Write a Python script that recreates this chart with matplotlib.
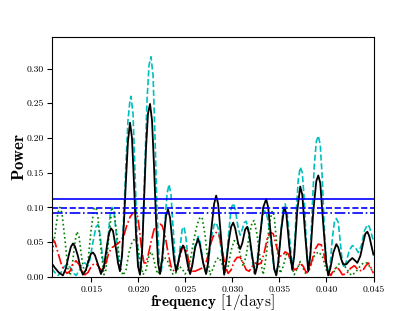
import matplotlib
matplotlib.use("Agg")
import matplotlib.pyplot as plt

plt.rcParams['font.family'] = ['cmr10']
plt.rcParams['mathtext.fontset'] = 'cm'
plt.rcParams['axes.formatter.use_mathtext'] = True

# curve 1: black solid
freq_k = [0.01080, 0.01112, 0.01155, 0.01197, 0.01229, 0.01261, 0.01282, 0.01304, 0.01325, 0.01357,
          0.01389, 0.01410, 0.01442, 0.01474, 0.01495, 0.01517, 0.01538, 0.01570, 0.01602, 0.01634,
          0.01666, 0.01687, 0.01708, 0.01730, 0.01762, 0.01783, 0.01804, 0.01826, 0.01847, 0.01868,
          0.01889, 0.01911, 0.01932, 0.01953, 0.01975, 0.01996, 0.02017, 0.02039, 0.02060, 0.02081,
          0.02102, 0.02124, 0.02145, 0.02166, 0.02188, 0.02209, 0.02230, 0.02252, 0.02273, 0.02294,
          0.02315, 0.02337, 0.02358, 0.02379, 0.02401, 0.02422, 0.02454, 0.02475, 0.02496, 0.02528,
          0.02550, 0.02571, 0.02603, 0.02635, 0.02656, 0.02688, 0.02720, 0.02741, 0.02773, 0.02805,
          0.02827, 0.02848, 0.02880, 0.02912, 0.02933, 0.02965, 0.02986, 0.03008, 0.03029, 0.03061,
          0.03082, 0.03104, 0.03135, 0.03157, 0.03178, 0.03210, 0.03242, 0.03263, 0.03295, 0.03327,
          0.03359, 0.03380, 0.03412, 0.03444, 0.03466, 0.03487, 0.03519, 0.03551, 0.03572, 0.03604,
          0.03636, 0.03657, 0.03689, 0.03721, 0.03743, 0.03774, 0.03806, 0.03828, 0.03860, 0.03892,
          0.03913, 0.03934, 0.03966, 0.03998, 0.04019, 0.04041, 0.04073, 0.04105, 0.04126, 0.04158,
          0.04179, 0.04211, 0.04243, 0.04275, 0.04307, 0.04328, 0.04360, 0.04392, 0.04413, 0.04435,
          0.04456, 0.04477, 0.04499]
power_k = [0.019, 0.013, 0.006, 0.002, 0.012, 0.032, 0.043, 0.048, 0.044, 0.030,
           0.010, 0.003, 0.010, 0.025, 0.033, 0.035, 0.031, 0.018, 0.004, 0.015,
           0.045, 0.062, 0.070, 0.066, 0.040, 0.020, 0.008, 0.030, 0.080, 0.140,
           0.195, 0.222, 0.200, 0.135, 0.060, 0.015, 0.003, 0.035, 0.110, 0.185,
           0.235, 0.249, 0.225, 0.160, 0.080, 0.020, 0.004, 0.025, 0.060, 0.088,
           0.097, 0.085, 0.055, 0.025, 0.008, 0.020, 0.040, 0.045, 0.038, 0.015,
           0.004, 0.015, 0.042, 0.055, 0.045, 0.020, 0.004, 0.020, 0.065, 0.105,
           0.117, 0.105, 0.055, 0.003, 0.020, 0.055, 0.072, 0.078, 0.070, 0.048,
           0.040, 0.048, 0.068, 0.072, 0.062, 0.030, 0.004, 0.015, 0.060, 0.100,
           0.112, 0.100, 0.055, 0.012, 0.002, 0.020, 0.068, 0.100, 0.092, 0.045,
           0.010, 0.030, 0.095, 0.130, 0.118, 0.060, 0.008, 0.030, 0.095, 0.138,
           0.146, 0.135, 0.075, 0.020, 0.002, 0.012, 0.035, 0.047, 0.042, 0.025,
           0.018, 0.018, 0.023, 0.027, 0.023, 0.020, 0.030, 0.050, 0.062, 0.065,
           0.058, 0.045, 0.032]

# curve 2: cyan dashed
freq_c = [0.01080, 0.01112, 0.01144, 0.01176, 0.01208, 0.01240, 0.01272, 0.01304, 0.01336, 0.01368,
          0.01400, 0.01431, 0.01463, 0.01485, 0.01517, 0.01549, 0.01570, 0.01591, 0.01613, 0.01634,
          0.01655, 0.01676, 0.01698, 0.01719, 0.01740, 0.01762, 0.01783, 0.01804, 0.01826, 0.01847,
          0.01868, 0.01889, 0.01911, 0.01921, 0.01943, 0.01964, 0.01985, 0.02007, 0.02028, 0.02049,
          0.02070, 0.02092, 0.02113, 0.02134, 0.02156, 0.02177, 0.02198, 0.02220, 0.02241, 0.02262,
          0.02283, 0.02305, 0.02326, 0.02347, 0.02369, 0.02390, 0.02411, 0.02433, 0.02465, 0.02486,
          0.02507, 0.02528, 0.02550, 0.02571, 0.02603, 0.02635, 0.02656, 0.02688, 0.02720, 0.02741,
          0.02773, 0.02805, 0.02827, 0.02848, 0.02880, 0.02912, 0.02933, 0.02965, 0.02986, 0.03008,
          0.03029, 0.03061, 0.03082, 0.03104, 0.03125, 0.03146, 0.03167, 0.03199, 0.03231, 0.03253,
          0.03285, 0.03317, 0.03338, 0.03359, 0.03380, 0.03412, 0.03444, 0.03466, 0.03487, 0.03519,
          0.03540, 0.03561, 0.03583, 0.03615, 0.03636, 0.03657, 0.03679, 0.03700, 0.03721, 0.03743,
          0.03764, 0.03785, 0.03806, 0.03828, 0.03849, 0.03870, 0.03892, 0.03913, 0.03934, 0.03956,
          0.03977, 0.03998, 0.04019, 0.04041, 0.04062, 0.04083, 0.04105, 0.04126, 0.04147, 0.04169,
          0.04190, 0.04211, 0.04243, 0.04275, 0.04307, 0.04339, 0.04371, 0.04403, 0.04435, 0.04456,
          0.04477, 0.04499]
power_c = [0.012, 0.006, 0.002, 0.006, 0.014, 0.018, 0.014, 0.006, 0.002, 0.008,
           0.018, 0.020, 0.016, 0.025, 0.050, 0.072, 0.075, 0.062, 0.035, 0.012,
           0.020, 0.055, 0.088, 0.100, 0.095, 0.065, 0.030, 0.010, 0.035, 0.095,
           0.165, 0.225, 0.255, 0.260, 0.235, 0.150, 0.060, 0.012, 0.010, 0.070,
           0.165, 0.255, 0.305, 0.317, 0.290, 0.200, 0.095, 0.025, 0.005, 0.030,
           0.080, 0.120, 0.133, 0.118, 0.070, 0.025, 0.008, 0.030, 0.068, 0.072,
           0.055, 0.025, 0.005, 0.015, 0.045, 0.058, 0.050, 0.022, 0.004, 0.018,
           0.055, 0.075, 0.078, 0.070, 0.040, 0.004, 0.020, 0.070, 0.098, 0.106,
           0.098, 0.070, 0.060, 0.068, 0.078, 0.080, 0.070, 0.035, 0.005, 0.012,
           0.050, 0.085, 0.095, 0.093, 0.080, 0.045, 0.010, 0.003, 0.020, 0.070,
           0.100, 0.105, 0.090, 0.045, 0.012, 0.035, 0.095, 0.140, 0.158, 0.150,
           0.110, 0.050, 0.010, 0.035, 0.100, 0.160, 0.195, 0.203, 0.190, 0.140,
           0.070, 0.020, 0.003, 0.020, 0.055, 0.078, 0.084, 0.078, 0.050, 0.020,
           0.013, 0.022, 0.038, 0.045, 0.042, 0.035, 0.045, 0.066, 0.075, 0.072,
           0.062, 0.052]

# curve 3: green dotted
freq_g = [0.01080, 0.01112, 0.01144, 0.01165, 0.01187, 0.01218, 0.01250, 0.01272, 0.01293, 0.01325,
          0.01346, 0.01368, 0.01400, 0.01431, 0.01463, 0.01495, 0.01527, 0.01549, 0.01570, 0.01602,
          0.01634, 0.01655, 0.01687, 0.01719, 0.01740, 0.01772, 0.01804, 0.01836, 0.01868, 0.01900,
          0.01932, 0.01964, 0.01985, 0.02017, 0.02049, 0.02081, 0.02113, 0.02134, 0.02156, 0.02188,
          0.02209, 0.02241, 0.02273, 0.02305, 0.02337, 0.02369, 0.02401, 0.02433, 0.02465, 0.02496,
          0.02528, 0.02560, 0.02592, 0.02624, 0.02656, 0.02678, 0.02709, 0.02741, 0.02763, 0.02795,
          0.02827, 0.02858, 0.02890, 0.02922, 0.02954, 0.02986, 0.03018, 0.03050, 0.03082, 0.03114,
          0.03146, 0.03178, 0.03210, 0.03231, 0.03263, 0.03295, 0.03327, 0.03359, 0.03391, 0.03423,
          0.03444, 0.03476, 0.03508, 0.03540, 0.03572, 0.03593, 0.03625, 0.03657, 0.03689, 0.03721,
          0.03753, 0.03785, 0.03828, 0.03870, 0.03913, 0.03956, 0.03998, 0.04041, 0.04083, 0.04126,
          0.04169, 0.04211, 0.04264, 0.04307, 0.04350, 0.04392, 0.04435, 0.04467, 0.04499]
power_g = [0.030, 0.060, 0.092, 0.100, 0.092, 0.055, 0.012, 0.002, 0.012, 0.050,
           0.065, 0.058, 0.025, 0.002, 0.020, 0.065, 0.098, 0.100, 0.085, 0.040,
           0.003, 0.010, 0.060, 0.098, 0.095, 0.060, 0.015, 0.002, 0.010, 0.035,
           0.050, 0.055, 0.050, 0.025, 0.003, 0.010, 0.030, 0.036, 0.030, 0.010,
           0.004, 0.018, 0.028, 0.025, 0.012, 0.003, 0.006, 0.015, 0.012, 0.004,
           0.010, 0.030, 0.055, 0.075, 0.086, 0.085, 0.060, 0.020, 0.003, 0.012,
           0.025, 0.028, 0.018, 0.005, 0.015, 0.038, 0.052, 0.050, 0.032, 0.015,
           0.030, 0.060, 0.079, 0.081, 0.060, 0.025, 0.003, 0.030, 0.075, 0.095,
           0.088, 0.040, 0.005, 0.015, 0.032, 0.035, 0.018, 0.003, 0.012, 0.022,
           0.012, 0.003, 0.015, 0.030, 0.036, 0.030, 0.010, 0.001, 0.008, 0.018,
           0.020, 0.012, 0.002, 0.006, 0.014, 0.020, 0.020, 0.013, 0.006]

# curve 4: red dash-dot
freq_r = [0.01080, 0.01112, 0.01144, 0.01176, 0.01208, 0.01240, 0.01272, 0.01304, 0.01336, 0.01368,
          0.01400, 0.01431, 0.01463, 0.01495, 0.01527, 0.01559, 0.01591, 0.01623, 0.01655, 0.01687,
          0.01719, 0.01751, 0.01783, 0.01815, 0.01847, 0.01879, 0.01911, 0.01943, 0.01975, 0.01996,
          0.02017, 0.02039, 0.02060, 0.02081, 0.02102, 0.02134, 0.02166, 0.02198, 0.02230, 0.02252,
          0.02283, 0.02315, 0.02347, 0.02379, 0.02411, 0.02443, 0.02475, 0.02507, 0.02539, 0.02571,
          0.02603, 0.02635, 0.02667, 0.02699, 0.02731, 0.02763, 0.02795, 0.02827, 0.02858, 0.02890,
          0.02922, 0.02954, 0.02986, 0.03018, 0.03050, 0.03082, 0.03114, 0.03146, 0.03178, 0.03210,
          0.03242, 0.03274, 0.03306, 0.03338, 0.03370, 0.03402, 0.03434, 0.03466, 0.03498, 0.03530,
          0.03561, 0.03593, 0.03625, 0.03657, 0.03689, 0.03721, 0.03753, 0.03785, 0.03817, 0.03849,
          0.03881, 0.03913, 0.03945, 0.03977, 0.04009, 0.04041, 0.04073, 0.04105, 0.04137, 0.04169,
          0.04211, 0.04254, 0.04296, 0.04339, 0.04382, 0.04413, 0.04445, 0.04477, 0.04499]
power_r = [0.056, 0.050, 0.035, 0.020, 0.010, 0.005, 0.008, 0.018, 0.023, 0.018,
           0.008, 0.003, 0.006, 0.014, 0.019, 0.018, 0.012, 0.008, 0.020, 0.035,
           0.042, 0.045, 0.048, 0.052, 0.060, 0.075, 0.086, 0.092, 0.093, 0.085,
           0.060, 0.035, 0.020, 0.020, 0.030, 0.050, 0.068, 0.075, 0.076, 0.074,
           0.060, 0.035, 0.015, 0.008, 0.012, 0.030, 0.045, 0.040, 0.020, 0.008,
           0.008, 0.010, 0.012, 0.015, 0.025, 0.045, 0.058, 0.064, 0.060, 0.040,
           0.015, 0.005, 0.010, 0.022, 0.028, 0.028, 0.020, 0.010, 0.008, 0.015,
           0.020, 0.018, 0.020, 0.035, 0.055, 0.064, 0.062, 0.045, 0.030, 0.030,
           0.036, 0.033, 0.020, 0.010, 0.012, 0.020, 0.015, 0.006, 0.010, 0.025,
           0.040, 0.047, 0.046, 0.030, 0.010, 0.002, 0.008, 0.014, 0.010, 0.003,
           0.004, 0.012, 0.016, 0.010, 0.008, 0.015, 0.020, 0.012, 0.005]

# significance levels (horizontal lines)
levels = [0.112, 0.0986, 0.0923]
level_styles = ['-', '--', '-.']

fig, ax = plt.subplots(figsize=(4.15, 3.11), dpi=100)
fig.subplots_adjust(left=0.125, right=0.9, bottom=0.11, top=0.88)

ax.plot(freq_c, power_c, color='c', ls='--', lw=1.2)
ax.plot(freq_g, power_g, color='g', ls=':', lw=1.2)
ax.plot(freq_r, power_r, color='r', ls='-.', lw=1.2)
ax.plot(freq_k, power_k, color='k', ls='-', lw=1.3)
for lev, st in zip(levels, level_styles):
    ax.axhline(lev, color='b', ls=st, lw=1.2)

ax.set_xlim(0.0108, 0.045)
ax.set_ylim(0, 0.345)
ax.set_xticks([0.015, 0.020, 0.025, 0.030, 0.035, 0.040, 0.045])
ax.set_xticklabels(['0.015', '0.020', '0.025', '0.030', '0.035', '0.040', '0.045'])
ax.set_yticks([0.00, 0.05, 0.10, 0.15, 0.20, 0.25, 0.30])
ax.set_yticklabels(['0.00', '0.05', '0.10', '0.15', '0.20', '0.25', '0.30'])
ax.tick_params(labelsize=7, pad=2.5)
ax.set_xlabel(r'$\mathbf{frequency}$ [1/days]', fontsize=11)
ax.set_ylabel(r'$\mathbf{Power}$', fontsize=12)
ax.xaxis.set_label_coords(0.5, -0.064)
ax.yaxis.set_label_coords(-0.078, 0.5)

fig.savefig('out.png', dpi=100)
